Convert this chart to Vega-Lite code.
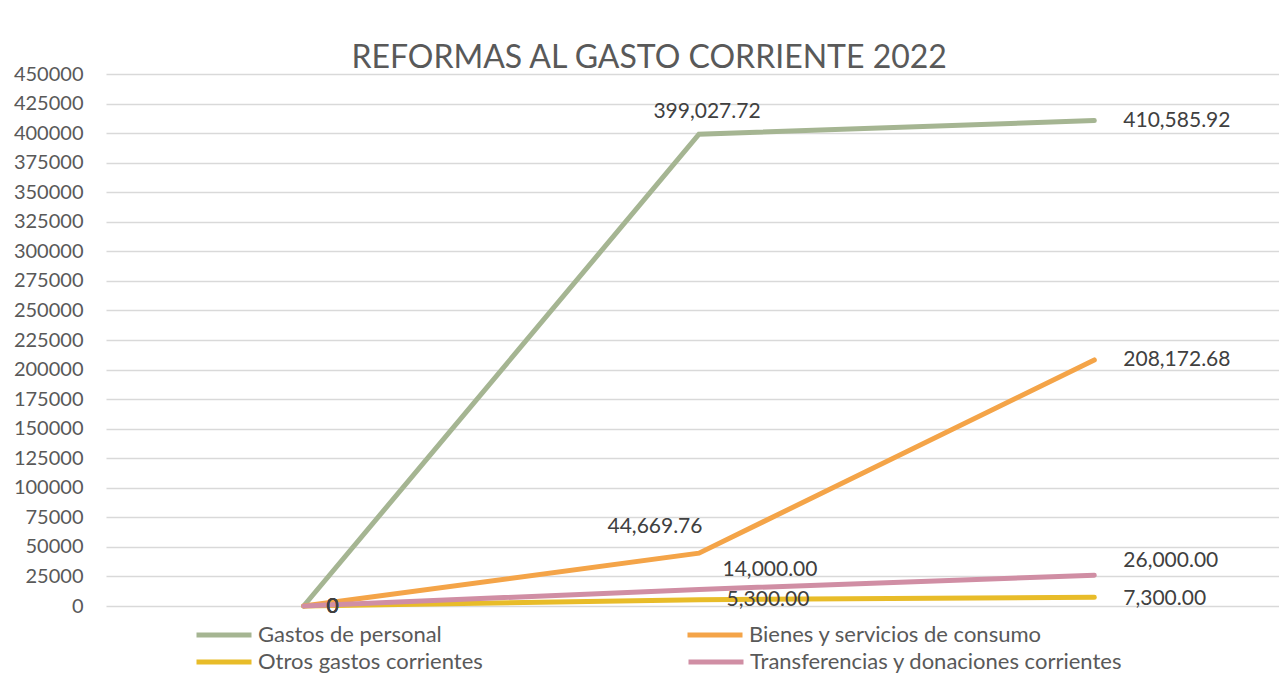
{
  "$schema": "https://vega.github.io/schema/vega-lite/v6.json",
  "autosize": {"type": "none"},
  "width": 1173,
  "height": 532,
  "padding": {"left": 106, "top": 74, "right": 0, "bottom": 78},
  "background": "white",
  "config": {
    "font": "Lato",
    "view": {"stroke": null},
    "legend": {
      "title": null,
      "orient": "none",
      "direction": "horizontal",
      "symbolType": "stroke",
      "symbolSize": 3025,
      "symbolStrokeWidth": 5,
      "labelFont": "Lato",
      "labelFontSize": 22,
      "labelColor": "#595959",
      "labelOffset": 4,
      "labelLimit": 500
    }
  },
  "title": {
    "text": "REFORMAS AL GASTO CORRIENTE 2022",
    "font": "Lato",
    "fontSize": 32,
    "fontWeight": "normal",
    "color": "#595959",
    "anchor": "start",
    "dx": 338,
    "baseline": "alphabetic",
    "offset": -36
  },
  "data": {
    "values": [
      {"serie": "Gastos de personal", "periodo": 1, "valor": 0},
      {"serie": "Gastos de personal", "periodo": 2, "valor": 399027.72},
      {"serie": "Gastos de personal", "periodo": 3, "valor": 410585.92},
      {"serie": "Bienes y servicios de consumo", "periodo": 1, "valor": 0},
      {"serie": "Bienes y servicios de consumo", "periodo": 2, "valor": 44669.76},
      {"serie": "Bienes y servicios de consumo", "periodo": 3, "valor": 208172.68},
      {"serie": "Otros gastos corrientes", "periodo": 1, "valor": 0},
      {"serie": "Otros gastos corrientes", "periodo": 2, "valor": 5300},
      {"serie": "Otros gastos corrientes", "periodo": 3, "valor": 7300},
      {"serie": "Transferencias y donaciones corrientes", "periodo": 1, "valor": 0},
      {"serie": "Transferencias y donaciones corrientes", "periodo": 2, "valor": 14000},
      {"serie": "Transferencias y donaciones corrientes", "periodo": 3, "valor": 26000}
    ]
  },
  "encoding": {
    "x": {"field": "periodo", "type": "quantitative", "scale": {"domain": [0.5, 3.4672], "nice": false, "zero": false}, "axis": null},
    "y": {
      "field": "valor", "type": "quantitative",
      "scale": {"domain": [0, 450000], "nice": false},
      "axis": {
        "title": null,
        "values": [0,25000,50000,75000,100000,125000,150000,175000,200000,225000,250000,275000,300000,325000,350000,375000,400000,425000,450000],
        "format": "d",
        "labelFont": "Lato",
        "labelFontSize": 20,
        "labelColor": "#595959",
        "labelPadding": 23,
        "ticks": false,
        "domain": false,
        "grid": true,
        "gridColor": "#D9D9D9",
        "gridWidth": 1.5
      }
    }
  },
  "layer": [
    {
      "transform": [{"filter": "datum.serie == 'Gastos de personal' || datum.serie == 'Bienes y servicios de consumo'"}],
      "mark": {"type": "line", "strokeWidth": 5, "strokeCap": "round"},
      "encoding": {
        "color": {
          "field": "serie", "type": "nominal",
          "scale": {
            "domain": ["Gastos de personal", "Bienes y servicios de consumo"],
            "range": ["#A5B592", "#F4A448"]
          },
          "legend": {"legendX": 88, "legendY": 531, "columnPadding": 235}
        }
      }
    },
    {
      "transform": [{"filter": "datum.serie == 'Otros gastos corrientes' || datum.serie == 'Transferencias y donaciones corrientes'"}],
      "mark": {"type": "line", "strokeWidth": 5, "strokeCap": "round"},
      "encoding": {
        "stroke": {
          "field": "serie", "type": "nominal",
          "scale": {
            "domain": ["Otros gastos corrientes", "Transferencias y donaciones corrientes"],
            "range": ["#E8BC29", "#D08EA4"]
          },
          "legend": {"legendX": 88, "legendY": 558, "columnPadding": 195}
        }
      }
    },
    {
      "transform": [{"filter": "datum.periodo == 1"}],
      "mark": {"type": "text", "align": "center", "baseline": "middle", "dx": 29, "dy": 1, "fontSize": 21, "color": "#404040"},
      "encoding": {"text": {"field": "valor", "type": "quantitative", "format": ",.0f"}}
    },
    {
      "transform": [{"filter": "datum.periodo == 2 && datum.serie == 'Gastos de personal'"}],
      "mark": {"type": "text", "align": "center", "baseline": "middle", "dx": 8, "dy": -22, "fontSize": 21, "color": "#404040"},
      "encoding": {"text": {"field": "valor", "type": "quantitative", "format": ",.2f"}}
    },
    {
      "transform": [{"filter": "datum.periodo == 2 && datum.serie == 'Bienes y servicios de consumo'"}],
      "mark": {"type": "text", "align": "center", "baseline": "middle", "dx": -44, "dy": -26, "fontSize": 21, "color": "#404040"},
      "encoding": {"text": {"field": "valor", "type": "quantitative", "format": ",.2f"}}
    },
    {
      "transform": [{"filter": "datum.periodo == 2 && datum.serie == 'Transferencias y donaciones corrientes'"}],
      "mark": {"type": "text", "align": "center", "baseline": "middle", "dx": 71, "dy": -19, "fontSize": 21, "color": "#404040"},
      "encoding": {"text": {"field": "valor", "type": "quantitative", "format": ",.2f"}}
    },
    {
      "transform": [{"filter": "datum.periodo == 2 && datum.serie == 'Otros gastos corrientes'"}],
      "mark": {"type": "text", "align": "center", "baseline": "middle", "dx": 69, "dy": 0, "fontSize": 21, "color": "#404040"},
      "encoding": {"text": {"field": "valor", "type": "quantitative", "format": ",.2f"}}
    },
    {
      "transform": [{"filter": "datum.periodo == 3 && (datum.serie == 'Gastos de personal' || datum.serie == 'Bienes y servicios de consumo')"}],
      "mark": {"type": "text", "align": "left", "baseline": "middle", "dx": 29, "dy": 0, "fontSize": 21, "color": "#404040"},
      "encoding": {"text": {"field": "valor", "type": "quantitative", "format": ",.2f"}}
    },
    {
      "transform": [{"filter": "datum.periodo == 3 && datum.serie == 'Transferencias y donaciones corrientes'"}],
      "mark": {"type": "text", "align": "left", "baseline": "middle", "dx": 29, "dy": -14, "fontSize": 21, "color": "#404040"},
      "encoding": {"text": {"field": "valor", "type": "quantitative", "format": ",.2f"}}
    },
    {
      "transform": [{"filter": "datum.periodo == 3 && datum.serie == 'Otros gastos corrientes'"}],
      "mark": {"type": "text", "align": "left", "baseline": "middle", "dx": 29, "dy": 2, "fontSize": 21, "color": "#404040"},
      "encoding": {"text": {"field": "valor", "type": "quantitative", "format": ",.2f"}}
    }
  ]
}
